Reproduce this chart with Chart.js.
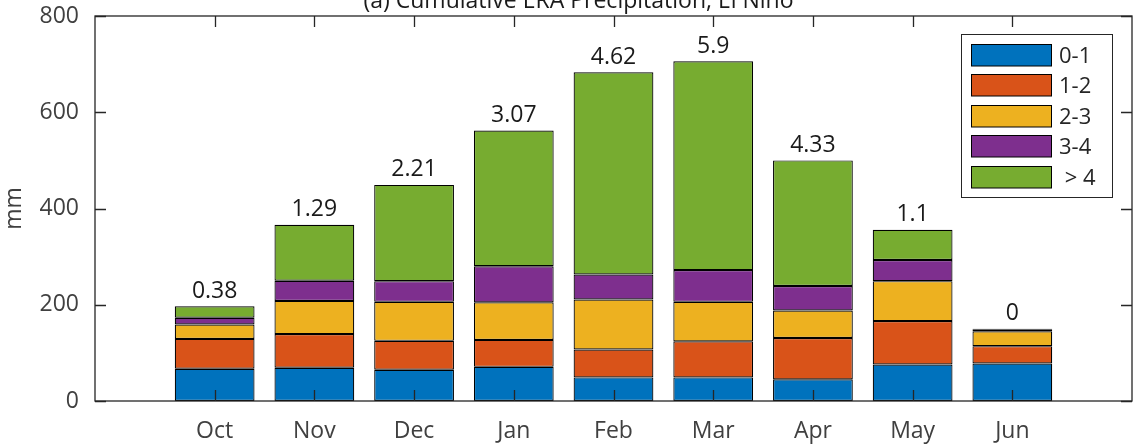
<!DOCTYPE html>
<html>
<head>
<meta charset="utf-8">
<script src="https://cdn.jsdelivr.net/npm/chart.js@4.4.0/dist/chart.umd.min.js"></script>
<style>
  html, body { margin: 0; padding: 0; background: #fff; }
  #wrap { position: relative; width: 1137px; height: 446px; }
</style>
</head>
<body>
<div id="wrap"><canvas id="chart"></canvas></div>
<script>
// ── data ──────────────────────────────────────────────────────────────
const MONTHS = ['Oct', 'Nov', 'Dec', 'Jan', 'Feb', 'Mar', 'Apr', 'May', 'Jun'];
const BIN_LABELS = ['0-1', '1-2', '2-3', '3-4', ' > 4'];
const BIN_COLORS = ['#0072BD', '#D95319', '#EDB120', '#7E2F8E', '#77AC30'];

const MM_0_1 = [67, 69, 65, 71, 49, 49, 45, 76, 78];
const MM_1_2 = [62, 70, 60, 56, 58, 75, 86, 90, 36];
const MM_2_3 = [30, 69, 81, 78, 104, 82, 57, 83, 31];
const MM_3_4 = [14, 42, 43, 75, 52, 66, 51, 44, 4];
const MM_GT4 = [24, 116, 200, 282, 420, 434, 261, 63, 1];

const TOP_LABELS = ['0.38', '1.29', '2.21', '3.07', '4.62', '5.9', '4.33', '1.1', '0'];
const Y_TICKS = [0, 200, 400, 600, 800];

const FONT = '"Open Sans", "Noto Sans", sans-serif';
const AXIS_COLOR = '#262626';

// ── plugins ───────────────────────────────────────────────────────────

// box round the axes with inward ticks on all four sides
const framePlugin = {
  id: 'frame',
  afterDatasetsDraw(chart) {
    const { ctx, chartArea: a, scales: { x, y } } = chart;
    ctx.save();
    ctx.strokeStyle = AXIS_COLOR;
    ctx.lineWidth = 1.3;
    ctx.beginPath();
    x.ticks.forEach(t => {
      const px = Math.round(x.getPixelForValue(t.value)) + 0.5;
      ctx.moveTo(px, a.bottom); ctx.lineTo(px, a.bottom - 11);
      ctx.moveTo(px, a.top);    ctx.lineTo(px, a.top + 11);
    });
    y.ticks.forEach(t => {
      const py = Math.round(y.getPixelForValue(t.value)) + 0.5;
      ctx.moveTo(a.left, py);  ctx.lineTo(a.left + 11, py);
      ctx.moveTo(a.right, py); ctx.lineTo(a.right - 11, py);
    });
    ctx.stroke();
    ctx.strokeRect(a.left, a.top, a.right - a.left, a.bottom - a.top);
    ctx.restore();
  }
};

// numbers written above each stacked bar
const topLabelPlugin = {
  id: 'topLabels',
  afterDatasetsDraw(chart) {
    const { ctx } = chart;
    const meta = chart.getDatasetMeta(chart.data.datasets.length - 1);
    ctx.save();
    ctx.font = `23px ${FONT}`;
    ctx.fillStyle = '#1a1a1a';
    ctx.textAlign = 'center';
    ctx.textBaseline = 'alphabetic';
    meta.data.forEach((bar, i) => {
      ctx.fillText(TOP_LABELS[i], bar.x, bar.y - 8.5);
    });
    ctx.restore();
  }
};

// title sits partly above the canvas edge, as in the source figure
const titlePlugin = {
  id: 'cutTitle',
  afterDraw(chart) {
    const { ctx } = chart;
    ctx.save();
    ctx.font = `23px ${FONT}`;
    ctx.fillStyle = '#1a1a1a';
    ctx.textAlign = 'center';
    ctx.textBaseline = 'alphabetic';
    ctx.fillText('(a) Cumulative ERA Precipitation, El Niño', 578.5, 8);
    ctx.restore();
  }
};

// legend box in the upper right of the axes
const legendPlugin = {
  id: 'boxLegend',
  afterDraw(chart) {
    const { ctx, chartArea: a } = chart;
    const right = a.right - 20, top = a.top + 18;
    const w = 151, h = 163, left = right - w;
    ctx.save();
    ctx.fillStyle = '#fff';
    ctx.fillRect(left, top, w, h);
    ctx.strokeStyle = AXIS_COLOR;
    ctx.lineWidth = 1;
    ctx.strokeRect(Math.round(left) + 0.5, Math.round(top) + 0.5, w, h);
    ctx.font = `22px ${FONT}`;
    ctx.textBaseline = 'middle';
    chart.data.datasets.forEach((ds, i) => {
      const sy = Math.round(top + 9.5 + i * 30.6) + 0.5;
      ctx.fillStyle = ds.backgroundColor;
      ctx.fillRect(Math.round(left) + 10.5, sy, 80, 21.5);
      ctx.strokeStyle = '#000';
      ctx.strokeRect(Math.round(left) + 10.5, sy, 80, 21.5);
      ctx.fillStyle = AXIS_COLOR;
      ctx.fillText(ds.label, left + 98, sy + 12);
    });
    ctx.restore();
  }
};

// ── chart ─────────────────────────────────────────────────────────────
const SERIES = [MM_0_1, MM_1_2, MM_2_3, MM_3_4, MM_GT4];

const noPad = scale => {
  scale.paddingTop = 0; scale.paddingBottom = 0;
  scale.paddingLeft = 0; scale.paddingRight = 0;
};

new Chart(document.getElementById('chart'), {
  type: 'bar',
  data: {
    datasets: SERIES.map((vals, k) => ({
      label: BIN_LABELS[k],
      data: vals.map((v, i) => ({ x: i + 1, y: v })),
      backgroundColor: BIN_COLORS[k],
      borderColor: '#000',
      borderWidth: 1.2,
      borderSkipped: false,
      categoryPercentage: 1,
      barPercentage: 0.8,
    })),
  },
  options: {
    responsive: true,
    maintainAspectRatio: false,
    animation: false,
    devicePixelRatio: 1,
    layout: { padding: { left: 0, top: 16, right: 5, bottom: 0 } },
    plugins: {
      legend: { display: false },
      tooltip: { enabled: false },
      title: { display: false },
    },
    scales: {
      x: {
        type: 'linear',
        stacked: true,
        offset: false,
        min: -0.2,
        max: 10.2,
        grid: { display: false, drawTicks: false },
        border: { display: false },
        afterBuildTicks: axis => { axis.ticks = MONTHS.map((_, i) => ({ value: i + 1 })); },
        afterFit: scale => { noPad(scale); scale.height = 45; },
        ticks: {
          autoSkip: false,
          maxRotation: 0,
          padding: 17,
          color: '#404040',
          font: { family: FONT, size: 23 },
          callback: v => MONTHS[v - 1] ?? '',
        },
      },
      y: {
        stacked: true,
        min: 0,
        max: 800,
        grid: { display: false, drawTicks: false },
        border: { display: false },
        afterBuildTicks: axis => { axis.ticks = Y_TICKS.map(v => ({ value: v })); },
        afterFit: scale => { noPad(scale); scale.width = 95; },
        ticks: {
          padding: 16,
          color: '#404040',
          font: { family: FONT, size: 23 },
        },
        title: {
          display: true,
          text: 'mm',
          color: '#404040',
          padding: { top: 1, bottom: 0 },
          font: { family: FONT, size: 23 },
        },
      },
    },
  },
  plugins: [framePlugin, topLabelPlugin, titlePlugin, legendPlugin],
});
</script>
</body>
</html>
